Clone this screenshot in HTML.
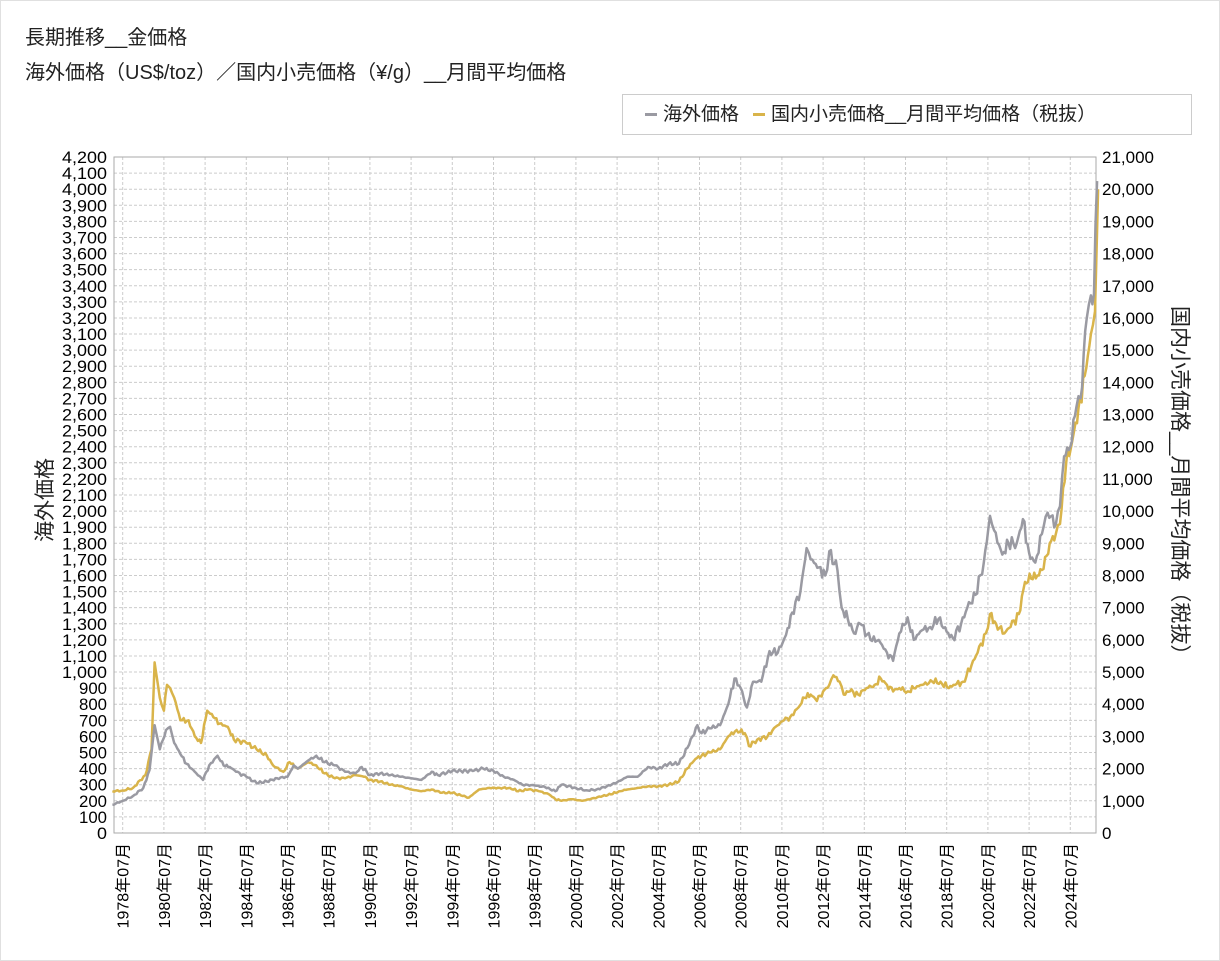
<!DOCTYPE html>
<html><head><meta charset="utf-8"><style>
body{margin:0;background:#fff}
#w{position:relative;width:1218px;height:959px;border:1px solid #e0e0e0;overflow:hidden;font-family:"Liberation Sans","Noto Sans CJK JP",sans-serif;color:#222}
.t{position:absolute;left:24px;font-size:20px;white-space:nowrap}
#lg{position:absolute;left:621px;top:93px;width:568px;height:39px;border:1px solid #ccc;font-size:19px;line-height:39px;white-space:nowrap}
#ry{position:absolute;left:1165px;top:305px;writing-mode:vertical-rl;text-orientation:sideways;font-size:21px;white-space:nowrap}
#ly{position:absolute;left:28px;top:457px;writing-mode:vertical-rl;text-orientation:sideways;transform:rotate(180deg);font-size:21px;white-space:nowrap}
</style></head><body><div id="w">
<div class="t" style="top:20px">長期推移__金価格</div>
<div class="t" style="top:55px">海外価格（US$/toz）／国内小売価格（¥/g）__月間平均価格</div>
<div id="lg"><span style="display:inline-block;width:12px;height:3px;background:#9a9aa2;vertical-align:middle;margin:0 6px 0 22px"></span>海外価格<span style="display:inline-block;width:12px;height:3px;background:#d9b44a;vertical-align:middle;margin:0 6px 0 14px"></span>国内小売価格__月間平均価格（税抜）</div>
<div id="ly">海外価格</div>
<div id="ry">国内小売価格__月間平均価格（税抜）</div>
<svg id="s" width="1220" height="961" style="position:absolute;left:-1px;top:-1px"></svg>
</div>
<script>
const S=document.getElementById('s');let h='';
const X0=114,X1=1096,Y0=157,Y1=833;
const xt=t=>122.7+20.6*(t-1978.5);
const yu=v=>833-v*676/4200, yj=v=>833-v*676/21000;
for(let i=0;i<=42;i++){const y=yu(i*100);
 h+=`<line x1="${X0}" x2="${X1}" y1="${y}" y2="${y}" stroke="#ccc" stroke-dasharray="3,2"/>`;
 h+=`<text x="107" y="${y+6}" text-anchor="end" font-size="17" textLength="${i*100>=1000?45:i==0?10:28}" lengthAdjust="spacingAndGlyphs">${(i*100).toLocaleString('en-US')}</text>`;}
for(let i=0;i<=21;i++){const y=yj(i*1000);h+=`<text x="1102" y="${y+6}" font-size="17">${(i*1000).toLocaleString('en-US')}</text>`;}
for(let yr=1978;yr<=2024;yr+=2){const x=xt(yr+0.5);
 h+=`<line x1="${x}" x2="${x}" y1="${Y0}" y2="${Y1}" stroke="#ccc" stroke-dasharray="3,2"/>`;
 h+=`<text transform="translate(${x+6},843) rotate(-90)" text-anchor="end" font-size="16">${yr}年07月</text>`;}
h+=`<rect x="${X0}" y="${Y0}" width="${X1-X0}" height="${Y1-Y0}" fill="none" stroke="#aaa"/>`;
const U=[1978,175,1978.5,200,1979,230,1979.5,280,1979.8,390,1980.05,670,1980.3,520,1980.6,640,1980.8,660,1981,560,1981.3,490,1981.6,430,1982,380,1982.4,330,1982.7,420,1983.1,480,1983.4,420,1983.7,410,1984,380,1984.5,350,1985,310,1985.5,320,1986,340,1986.5,350,1986.8,420,1987,400,1987.5,450,1987.9,480,1988.3,440,1988.8,420,1989.3,380,1989.8,370,1990.1,410,1990.5,360,1991,370,1991.5,360,1992,350,1992.5,340,1993,330,1993.5,380,1993.8,360,1994.5,385,1995.5,385,1996,400,1996.5,385,1997,350,1997.5,330,1997.9,300,1998.5,295,1999,285,1999.5,260,1999.8,300,2000.5,280,2001,265,2001.5,270,2002,290,2002.5,315,2003,350,2003.5,350,2004,410,2004.5,400,2005,430,2005.5,430,2006,550,2006.4,670,2006.6,620,2007,650,2007.5,670,2007.9,800,2008.2,960,2008.5,900,2008.8,780,2009.1,940,2009.5,940,2009.9,1130,2010.3,1120,2010.7,1230,2011,1370,2011.4,1500,2011.7,1770,2011.9,1700,2012.3,1650,2012.6,1600,2012.8,1750,2013.2,1630,2013.4,1400,2013.7,1330,2014,1240,2014.3,1300,2014.8,1200,2015.2,1200,2015.6,1120,2015.9,1070,2016.2,1240,2016.6,1340,2016.9,1200,2017.3,1260,2017.7,1280,2018.1,1330,2018.5,1250,2018.8,1210,2019.2,1300,2019.5,1400,2019.9,1480,2020.3,1680,2020.6,1970,2020.8,1880,2021.2,1730,2021.5,1800,2021.9,1800,2022.2,1950,2022.5,1740,2022.8,1680,2023.2,1900,2023.4,1990,2023.8,1920,2024,2030,2024.2,2340,2024.5,2400,2024.8,2650,2025,2700,2025.3,3200,2025.5,3340,2025.65,3350,2025.8,4050];
const J=[1978,1300,1978.5,1320,1979,1400,1979.6,1800,1979.9,2600,1980.05,5300,1980.3,4200,1980.5,3800,1980.65,4600,1980.8,4500,1981,4200,1981.3,3500,1981.7,3500,1982,3000,1982.3,2800,1982.6,3800,1982.9,3600,1983.2,3400,1983.6,3300,1983.9,2900,1984.5,2800,1985,2600,1985.5,2400,1985.8,2100,1986.3,1900,1986.6,2200,1987,2000,1987.5,2200,1987.9,2100,1988.3,1850,1988.8,1700,1989.3,1700,1989.8,1800,1990.2,1750,1990.5,1650,1991,1600,1991.5,1500,1992,1450,1992.5,1350,1993,1300,1993.5,1350,1994,1250,1994.5,1250,1995,1150,1995.3,1100,1995.8,1350,1996.3,1400,1996.8,1400,1997.3,1400,1997.7,1300,1998.2,1350,1998.7,1300,1999.2,1200,1999.5,1050,1999.8,1000,2000.3,1050,2000.8,1000,2001.2,1050,2001.8,1150,2002.2,1200,2002.6,1300,2003,1350,2003.5,1400,2004,1450,2004.5,1450,2005,1500,2005.5,1600,2005.9,2000,2006.3,2300,2006.6,2400,2007,2500,2007.5,2600,2007.9,3000,2008.3,3200,2008.7,3100,2008.9,2700,2009.3,2900,2009.8,3000,2010.2,3300,2010.6,3500,2010.9,3600,2011.3,3900,2011.6,4200,2011.9,4300,2012.2,4100,2012.5,4400,2012.8,4600,2013,4900,2013.3,4700,2013.5,4300,2013.8,4400,2014.2,4300,2014.6,4500,2015,4600,2015.3,4800,2015.6,4600,2015.9,4400,2016.2,4500,2016.6,4400,2016.9,4500,2017.3,4600,2017.8,4700,2018.2,4700,2018.6,4500,2018.9,4600,2019.3,4700,2019.7,5200,2020,5600,2020.4,6200,2020.6,6800,2020.9,6500,2021.3,6200,2021.6,6400,2022,6800,2022.3,7800,2022.6,7900,2022.9,8000,2023.2,8200,2023.5,9000,2023.8,9300,2024,9600,2024.3,11500,2024.6,12200,2024.9,13200,2025.2,14200,2025.5,15500,2025.7,16200,2025.85,20000];
function line(A,f,c){let p=[];for(let i=0;i<A.length;i+=2){const t=A[i],v=A[i+1];
 if(i>0){const t0=A[i-2],v0=A[i-1],n=Math.max(1,Math.round((t-t0)*12));for(let k=1;k<n;k++){const tt=t0+(t-t0)*k/n;let vv=v0+(v-v0)*k/n;vv*=1+0.025*Math.sin(tt*37.1)*Math.cos(tt*13.7);p.push(xt(tt).toFixed(1)+','+f(vv).toFixed(1));}}
 p.push(xt(t).toFixed(1)+','+f(v).toFixed(1));}
 return `<polyline points="${p.join(' ')}" fill="none" stroke="${c}" stroke-width="2.5" stroke-linejoin="round"/>`;}
h+=line(J,yj,'#d9b44a');h+=line(U,yu,'#9a9aa2');
S.innerHTML=h;
</script></body></html>
